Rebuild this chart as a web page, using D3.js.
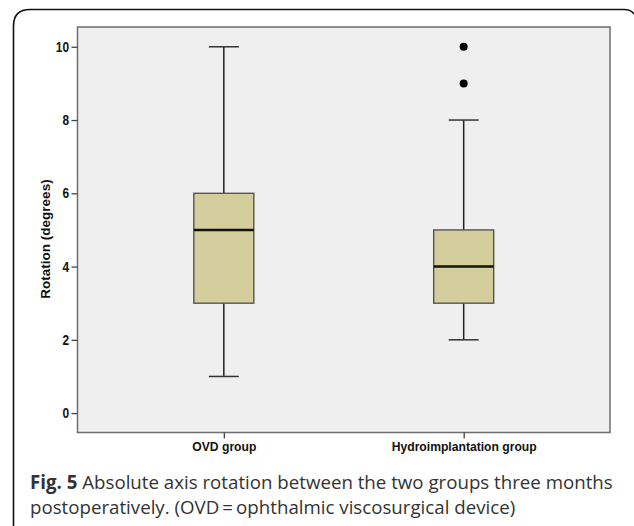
<!DOCTYPE html>
<head>
  <meta charset="UTF-8">
  <script src="https://d3js.org/d3.v7.min.js"></script>
</head>
<body style="margin:0;background:#fff">
  <div id="boxContainer">
    <svg id="boxSVG"></svg>
  </div>
</body>
<style>
  .axislbl {
    font-family: 'Liberation Sans', Arial, sans-serif;
    font-weight: bold;
    fill: #111;
  }
  .caption {
    font-family: 'Open Sans', sans-serif;
    font-size: 18.7px;
    fill: #333;
  }
</style>
<script type="text/javascript">
  // data
  const groups = ['OVD group', 'Hydroimplantation group'];
  const whiskerLow = [1, 2];
  const q1 = [3, 3];
  const median = [5, 4];
  const q3 = [6, 5];
  const whiskerHigh = [10, 8];
  const outliers = [[], [10, 9]];
  const yTicks = [0, 2, 4, 6, 8, 10];

  const W = 634, H = 526;
  const plot = { left: 77.5, top: 27, right: 610, bottom: 432.5 };

  let svg = d3.select('#boxSVG')
    .attr('width', W)
    .attr('height', H);

  // outer rounded frame (open at the bottom)
  svg.append('path')
    .attr('d', `M13.5,${H} L13.5,26 Q13.5,9.5 30,9.5 L624,9.5 Q631,9.5 634,14`)
    .attr('fill', 'none')
    .attr('stroke', '#111')
    .attr('stroke-width', 1.6);

  const y = d3.scaleLinear()
    .domain([-0.53, 10.54])
    .range([plot.bottom, plot.top]);

  const x = d3.scalePoint()
    .domain(groups)
    .range([plot.left, plot.right])
    .padding(0.61);

  // plot background
  svg.append('rect')
    .attr('x', plot.left)
    .attr('y', plot.top)
    .attr('width', plot.right - plot.left)
    .attr('height', plot.bottom - plot.top)
    .attr('fill', '#efefef')
    .attr('stroke', '#6e6e6e')
    .attr('stroke-width', 1.5);

  // y axis (labels narrowed, the original uses a condensed bold face)
  const yAxis = svg.append('g')
    .attr('transform', `translate(${plot.left},0)`)
    .call(d3.axisLeft(y).tickValues(yTicks).tickSize(6).tickPadding(2));
  yAxis.select('.domain').remove();
  yAxis.selectAll('line').attr('stroke', '#444').attr('stroke-width', 1.3);
  yAxis.selectAll('text')
    .attr('class', 'axislbl')
    .attr('font-size', 14)
    .attr('fill', '#111')
    .attr('x', -8.5 / 0.85)
    .attr('transform', 'scale(0.85,1)');

  // x axis
  const xAxis = svg.append('g')
    .attr('transform', `translate(0,${plot.bottom})`)
    .call(d3.axisBottom(x).tickSize(6).tickPadding(3));
  xAxis.select('.domain').remove();
  xAxis.selectAll('line').attr('stroke', '#444').attr('stroke-width', 1.3);
  xAxis.selectAll('text')
    .attr('class', 'axislbl')
    .attr('font-size', 13.5)
    .attr('fill', '#111')
    .attr('transform', 'scale(0.9,1)');

  svg.append('text')
    .attr('class', 'axislbl')
    .attr('font-size', 13.5)
    .attr('text-anchor', 'middle')
    .attr('transform', `translate(49.5,239) rotate(-90)`)
    .text('Rotation (degrees)');

  const boxW = 60, capW = 30;
  const box = svg.append('g').selectAll('g')
    .data(groups.map((g, i) => ({ g, lo: whiskerLow[i], q1: q1[i], med: median[i], q3: q3[i], hi: whiskerHigh[i], out: outliers[i] })))
    .join('g');

  // whiskers
  box.append('line')
    .attr('x1', d => x(d.g)).attr('x2', d => x(d.g))
    .attr('y1', d => y(d.lo)).attr('y2', d => y(d.hi))
    .attr('stroke', '#222').attr('stroke-width', 1.5);
  box.selectAll('line.cap')
    .data(d => [d.lo, d.hi].map(v => ({ g: d.g, v })))
    .join('line')
    .attr('class', 'cap')
    .attr('x1', d => x(d.g) - capW / 2).attr('x2', d => x(d.g) + capW / 2)
    .attr('y1', d => y(d.v)).attr('y2', d => y(d.v))
    .attr('stroke', '#333').attr('stroke-width', 1.5);

  // box
  box.append('rect')
    .attr('x', d => x(d.g) - boxW / 2)
    .attr('y', d => y(d.q3))
    .attr('width', boxW)
    .attr('height', d => y(d.q1) - y(d.q3))
    .attr('fill', '#d3ce9b')
    .attr('stroke', '#555')
    .attr('stroke-width', 1.4);

  box.append('line')
    .attr('x1', d => x(d.g) - boxW / 2).attr('x2', d => x(d.g) + boxW / 2)
    .attr('y1', d => y(d.med)).attr('y2', d => y(d.med))
    .attr('stroke', '#111').attr('stroke-width', 2.6);

  box.selectAll('circle')
    .data(d => d.out.map(v => ({ g: d.g, v })))
    .join('circle')
    .attr('cx', d => x(d.g))
    .attr('cy', d => y(d.v))
    .attr('r', 4)
    .attr('fill', '#000');

  // caption
  const cap1 = svg.append('text').attr('class', 'caption').attr('x', 30).attr('y', 489);
  cap1.append('tspan').attr('font-weight', 'bold').text('Fig. 5');
  cap1.append('tspan').text(' Absolute axis rotation between the two groups three months');
  svg.append('text').attr('class', 'caption').attr('x', 30).attr('y', 514)
    .text('postoperatively. (OVD\u2009=\u2009ophthalmic viscosurgical device)');
</script>
